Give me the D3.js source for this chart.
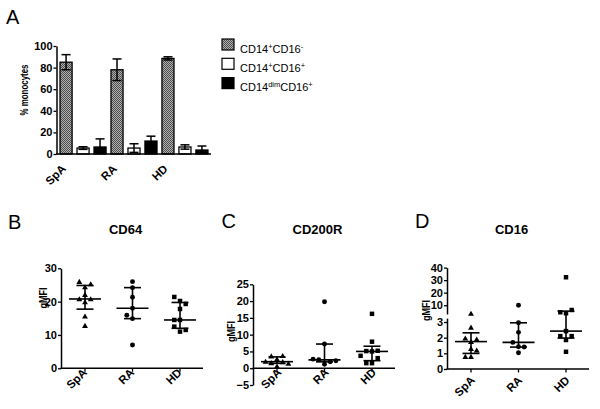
<!DOCTYPE html>
<html><head><meta charset="utf-8">
<script src="https://cdn.jsdelivr.net/npm/d3@7/dist/d3.min.js"></script>
<style>body{margin:0;background:#fff}svg{display:block;font-family:"Liberation Sans",Arial,sans-serif}</style>
</head><body>
<script>
// ---------- DATA ----------
const groups = ["SpA", "RA", "HD"];
const seriesNames = ["CD14+CD16-", "CD14+CD16+", "CD14dimCD16+"];
const meanClassical = [85, 78, 88.5];
const sdClassical = [7, 10, 1.5];
const meanIntermediate = [5.5, 5.5, 6.5];
const sdIntermediate = [1.2, 4, 2];
const meanNonclassical = [6.5, 12, 3.7];
const sdNonclassical = [7.5, 4.5, 3.7];
const ticksA = [0, 20, 40, 60, 80, 100];

const cd64SpA = [12.8, 15.6, 19.9, 20.8, 20.8, 22.1, 24.4, 26.0, 25.3];
const cd64RA = [7.0, 14.9, 15.9, 18.0, 21.3, 24.2, 26.0];
const cd64HD = [11.0, 12.5, 11.5, 14.5, 14.5, 17.8, 20.2, 19.3, 21.4];
const ticksB = [0, 10, 20, 30];

const cd200rSpA = [0.6, 2.7, 3.6, 3.7, 2.0, 1.9, 1.6, 1.4];
const cd200rRA = [1.2, 2.5, 1.9, 2.7, 2.2, 7.2, 19.8];
const cd200rHD = [1.5, 1.5, 3.0, 5.0, 5.1, 5.2, 3.7, 7.9, 16.2];
const ticksC = [-5, 0, 5, 10, 15, 20, 25];

const cd16SpA = [0.79, 0.79, 1.3, 1.2, 1.75, 1.96, 1.9, 2.66, 3.45];
const cd16RA = [1.04, 1.42, 1.7, 1.4, 2.34, 2.95, 10.0];
const cd16HD = [1.1, 1.85, 2.1, 2.1, 2.42, 3.6, 4.4, 6.2, 32.3];
const ticksDLower = [0, 1, 2, 3];
const ticksDUpper = [10, 20, 30, 40];

// ---------- SETUP ----------
const FONT = '"Liberation Sans", Arial, sans-serif';
const svg = d3.select("body").append("svg").attr("width", 600).attr("height", 409);
const defs = svg.append("defs");
const pat = defs.append("pattern").attr("id", "hatch").attr("width", 2).attr("height", 2)
  .attr("patternUnits", "userSpaceOnUse");
pat.append("rect").attr("width", 2).attr("height", 2).attr("fill", "#b0b0b0");
pat.append("rect").attr("width", 1).attr("height", 1).attr("fill", "#4e4e4e");
pat.append("rect").attr("x", 1).attr("y", 1).attr("width", 1).attr("height", 1).attr("fill", "#4e4e4e");

const fmtInt = d3.format("d");
function styleAxis(g) {
  g.selectAll("path.domain").attr("stroke", "#000").attr("stroke-width", 1.5);
  g.selectAll(".tick line").attr("stroke", "#000").attr("stroke-width", 1.3);
  g.selectAll(".tick text").attr("fill", "#000").attr("font-size", 11).attr("font-weight", "bold")
    .attr("font-family", FONT);
}
function letter(t, x, y) {
  svg.append("text").attr("x", x).attr("y", y).attr("font-size", 20).attr("font-family", FONT).text(t);
}

// ---------- PANEL A ----------
letter("A", 6, 23.5);
const fills = ["url(#hatch)", "#fff", "#000"];
const means = [meanClassical, meanIntermediate, meanNonclassical];
const sds = [sdClassical, sdIntermediate, sdNonclassical];
const bars = [];
groups.forEach((g, gi) => seriesNames.forEach((s, si) => {
  bars.push({ key: g + "|" + si, g, si, mean: means[si][gi], sd: sds[si][gi] });
}));
const xA = d3.scaleBand().domain(bars.map(d => d.key)).range([57.5, 210.5]).paddingInner(0.29).paddingOuter(0.15);
const yA = d3.scaleLinear().domain([0, 100]).range([154, 46]);

const gA = svg.append("g");
gA.selectAll("rect.bar").data(bars).enter().append("rect")
  .attr("x", d => xA(d.key)).attr("width", xA.bandwidth())
  .attr("y", d => yA(d.mean)).attr("height", d => yA(0) - yA(d.mean))
  .attr("fill", d => fills[d.si]).attr("stroke", "#000").attr("stroke-width", 1.3);
const capW = 4.5;
bars.forEach(d => {
  const cx = xA(d.key) + xA.bandwidth() / 2;
  const top = yA(d.mean + d.sd), bot = yA(Math.max(0, d.mean - d.sd));
  gA.append("line").attr("x1", cx).attr("x2", cx).attr("y1", top).attr("y2", bot).attr("stroke", "#000").attr("stroke-width", 1.5);
  gA.append("line").attr("x1", cx - capW).attr("x2", cx + capW).attr("y1", top).attr("y2", top).attr("stroke", "#000").attr("stroke-width", 1.5);
  if (d.mean - d.sd > 0)
    gA.append("line").attr("x1", cx - capW).attr("x2", cx + capW).attr("y1", bot).attr("y2", bot).attr("stroke", "#000").attr("stroke-width", 1.5);
});
const axA = gA.append("g").attr("transform", "translate(56.5,0)")
  .call(d3.axisLeft(yA).tickValues(ticksA).tickFormat(fmtInt).tickSize(3).tickSizeOuter(0).tickPadding(1));
styleAxis(axA);
gA.append("line").attr("x1", 56).attr("x2", 211).attr("y1", 154).attr("y2", 154).attr("stroke", "#000").attr("stroke-width", 1.5);
groups.forEach(g => {
  const cx = xA(g + "|0") + xA.bandwidth() / 2;
  gA.append("text").attr("transform", `translate(${cx + 0.5},${154 + 15.5}) rotate(-45)`)
    .attr("text-anchor", "end").attr("font-size", 11.5).attr("font-weight", "bold").attr("font-family", FONT).text(g);
});
gA.append("text").attr("transform", "translate(27.5,90) rotate(-90)").attr("text-anchor", "middle")
  .attr("font-size", 11.5).attr("font-weight", "bold").attr("font-family", FONT)
  .attr("textLength", 51).attr("lengthAdjust", "spacingAndGlyphs").text("% monocytes");

// legend
const legRows = [
  { fill: fills[0], parts: [["CD14", ""], ["+", "sup"], ["CD16", ""], ["-", "sup"]] },
  { fill: fills[1], parts: [["CD14", ""], ["+", "sup"], ["CD16", ""], ["+", "sup"]] },
  { fill: fills[2], parts: [["CD14", ""], ["dim", "sup"], ["CD16", ""], ["+", "sup"]] }
];
legRows.forEach((r, i) => {
  const cy = 44.5 + i * 19.3;
  svg.append("rect").attr("x", 222).attr("y", cy - 5.5).attr("width", 12).attr("height", 11)
    .attr("fill", r.fill).attr("stroke", "#000").attr("stroke-width", 1.2);
  const t = svg.append("text").attr("x", 240).attr("y", cy + 4).attr("font-size", 11).attr("font-family", FONT);
  r.parts.forEach(([s, k]) => {
    if (k === "sup") t.append("tspan").attr("font-size", 7.5).attr("dy", -4).text(s);
    else t.append("tspan").attr("dy", t.selectAll("tspan").size() ? 4 : 0).text(s);
  });
});

// ---------- SCATTER PANELS ----------
function quant(sorted, p) {
  const n = sorted.length; const h = (n + 1) * p;
  if (h <= 1) return sorted[0]; if (h >= n) return sorted[n - 1];
  const lo = Math.floor(h); return sorted[lo - 1] + (h - lo) * (sorted[lo] - sorted[lo - 1]);
}
function arrange(values, yf, s, D) {
  const placed = []; let alt = 0;
  return values.map(v => {
    const y = yf(v);
    const free = sl => !placed.some(p => p.slot === sl && Math.abs(p.y - y) < D);
    let slot = 0;
    if (!free(0)) {
      const f = alt % 2 === 0 ? -1 : 1; alt++;
      slot = [f, -f, 2 * f, -2 * f, 3 * f, -3 * f].find(free) ?? 0;
    }
    placed.push({ y, slot });
    return { v, y, dx: slot * s };
  });
}
const symbols = [d3.symbolTriangle, d3.symbolCircle, d3.symbolSquare];
const symSize = [15, 19, 20];

function scatterPanel(cfg) {
  const g = svg.append("g");
  letter(cfg.letter, cfg.letterX, cfg.letterY);
  g.append("text").attr("x", cfg.x0 + 64.5).attr("y", 234).attr("text-anchor", "middle")
    .attr("font-size", 13).attr("font-weight", "bold").attr("font-family", FONT).text(cfg.title);
  g.append("text").attr("transform", `translate(${cfg.labX},${cfg.labY}) rotate(-90)`).attr("text-anchor", "middle")
    .attr("font-size", 10.5).attr("font-weight", "bold").attr("font-family", FONT)
    .attr("textLength", 21).attr("lengthAdjust", "spacingAndGlyphs").text("gMFI");
  cfg.drawYAxis(g);
  const xS = d3.scalePoint().domain(groups).range([cfg.x0 + 24, cfg.x0 + 119]);
  const ax = cfg.axisY;
  g.append("line").attr("x1", cfg.x0 - 0.5).attr("x2", cfg.x0 + 142).attr("y1", ax).attr("y2", ax)
    .attr("stroke", "#000").attr("stroke-width", 1.5);
  groups.forEach((grp, gi) => {
    const cx = xS(grp);
    g.append("line").attr("x1", cx).attr("x2", cx).attr("y1", ax).attr("y2", ax + 3.5).attr("stroke", "#000").attr("stroke-width", 1.3);
    g.append("text").attr("transform", `translate(${cx + cfg.lblDx},${ax + cfg.lblDy}) rotate(-45)`)
      .attr("text-anchor", "end").attr("font-size", 11.5).attr("font-weight", "bold").attr("font-family", FONT).text(grp);
    const vals = cfg.data[gi];
    const sorted = vals.slice().sort((a, b) => a - b);
    const med = quant(sorted, 0.5), q1 = quant(sorted, 0.25), q3 = quant(sorted, 0.75);
    const yf = cfg.y;
    const pts = arrange(vals, yf, 5.7, 5.8);
    g.selectAll(null).data(pts).enter().append("path")
      .attr("d", d3.symbol().type(symbols[gi]).size(symSize[gi]))
      .attr("transform", d => `translate(${cx + d.dx},${d.y + (gi === 0 ? 0.6 : 0)})`).attr("fill", "#000");
    const ln = (x1, x2, y1, y2) => g.append("line").attr("x1", x1).attr("x2", x2).attr("y1", y1).attr("y2", y2)
      .attr("stroke", "#000").attr("stroke-width", 1.6);
    ln(cx, cx, yf(q1), yf(q3));
    ln(cx - 8.5, cx + 8.5, yf(q1), yf(q1));
    ln(cx - 8.5, cx + 8.5, yf(q3), yf(q3));
    ln(cx - 16, cx + 16, yf(med), yf(med));
  });
}

// B
const yB = d3.scaleLinear().domain([0, 30]).range([368.3, 268.3]);
scatterPanel({
  letter: "B", letterX: 8, letterY: 228.5, title: "CD64", x0: 61, labX: 47, labY: 298,
  y: v => yB(v), axisY: yB(0), lblDx: 2.5, lblDy: 5,
  data: [cd64SpA, cd64RA, cd64HD],
  drawYAxis: g => styleAxis(g.append("g").attr("transform", "translate(61,0)")
    .call(d3.axisLeft(yB).tickValues(ticksB).tickFormat(fmtInt).tickSize(3).tickSizeOuter(0).tickPadding(1)))
});
// C
const yC = d3.scaleLinear().domain([-5, 25]).range([385, 284.3]);
scatterPanel({
  letter: "C", letterX: 221.5, letterY: 227.5, title: "CD200R", x0: 253, labX: 234.5, labY: 331.5,
  y: v => yC(v), axisY: yC(0), lblDx: 5, lblDy: 5,
  data: [cd200rSpA, cd200rRA, cd200rHD],
  drawYAxis: g => styleAxis(g.append("g").attr("transform", "translate(253,0)")
    .call(d3.axisLeft(yC).tickValues(ticksC).tickFormat(fmtInt).tickSize(3).tickSizeOuter(0).tickPadding(1)))
});
// D (broken axis)
const yDLow = d3.scaleLinear().domain([0, 3.25]).range([369, 318.1]);
const yDHigh = d3.scaleLinear().domain([3, 40]).range([314, 267.6]);
const yD = v => v <= 3.25 ? yDLow(v) : yDHigh(v);
scatterPanel({
  letter: "D", letterX: 415, letterY: 228, title: "CD16", x0: 447, labX: 429.5, labY: 310.5,
  y: yD, axisY: yDLow(0), lblDx: 4.5, lblDy: 12,
  data: [cd16SpA, cd16RA, cd16HD],
  drawYAxis: g => {
    styleAxis(g.append("g").attr("transform", "translate(447,0)")
      .call(d3.axisLeft(yDLow).tickValues(ticksDLower).tickFormat(fmtInt).tickSize(3).tickSizeOuter(0).tickPadding(1)));
    styleAxis(g.append("g").attr("transform", "translate(447,0)")
      .call(d3.axisLeft(yDHigh).tickValues(ticksDUpper).tickFormat(fmtInt).tickSize(3).tickSizeOuter(0).tickPadding(1)));
  }
});
</script>
</body></html>
